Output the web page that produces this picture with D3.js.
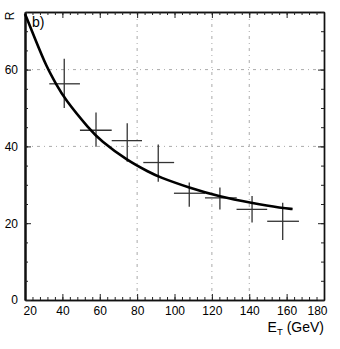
<!DOCTYPE html>
<html>
<head>
<meta charset="utf-8">
<script src="https://cdn.jsdelivr.net/npm/d3@7"></script>
<style>
  body { margin: 0; background: #fff; }
  svg { display: block; font-family: "Liberation Sans", Arial, sans-serif; }
</style>
</head>
<body>
<svg id="chart" width="340" height="349"></svg>
<script>
// measured points (crosses)
const binCenter = [41.0, 58.0, 74.7, 91.3, 107.9, 124.3, 141.5, 157.9];
const binLow = [33.0, 49.4, 66.4, 83.3, 99.7, 116.3, 133.2, 149.6];
const binHigh = [49.4, 66.4, 82.6, 99.8, 116.3, 133.3, 149.6, 166.6];
const ratio = [56.3, 44.2, 41.5, 35.8, 27.8, 26.6, 23.6, 20.5];
const ratioLow = [50.0, 39.9, 36.0, 30.8, 24.3, 23.6, 20.2, 15.6];
const ratioHigh = [62.8, 48.8, 46.0, 40.5, 30.6, 29.3, 27.1, 25.3];

// fit curve
const fitE = [20, 25.4, 31.6, 36.6, 41, 54.8, 60.1, 74.7, 86.9, 91.3, 108, 124.3, 141, 157.9, 163.2];
const fitR = [74.5, 68.0, 60.6, 56.3, 52.5, 44.3, 41.7, 36.3, 33.2, 32.1, 29.2, 26.9, 25.3, 23.9, 23.7];

const xTicks = [20, 40, 60, 80, 100, 120, 140, 160, 180];
const yTicks = [0, 20, 40, 60];
const xGrid = [80, 120, 140];
const yGrid = [40, 60];

const svg = d3.select("#chart");
const pLeft = 25, pRight = 324, pTop = 12, pBottom = 300;

const x = d3.scaleLinear().domain([20, 180]).range([pLeft, pRight]);
const y = d3.scaleLinear().domain([0, 75]).range([pBottom, pTop]);

const xMinor = d3.range(20, 181, 4);
const yMinor = d3.range(0, 76, 5);

// grid
svg.append("g").selectAll("line").data(xGrid).enter().append("line")
  .attr("x1", d => x(d)).attr("x2", d => x(d))
  .attr("y1", pTop).attr("y2", pBottom)
  .attr("stroke", "#aaa").attr("stroke-width", 1)
  .attr("stroke-dasharray", "3,4,1,4");
svg.append("g").selectAll("line").data(yGrid).enter().append("line")
  .attr("x1", pLeft).attr("x2", pRight)
  .attr("y1", d => y(d)).attr("y2", d => y(d))
  .attr("stroke", "#aaa").attr("stroke-width", 1)
  .attr("stroke-dasharray", "3,4,1,4");

function styleAxis(g) {
  g.selectAll("path.domain").attr("stroke", "#111").attr("stroke-width", 1.4);
  g.selectAll(".tick line").attr("stroke", "#222");
  g.selectAll("text").attr("fill", "#000").style("font-size", "12px")
    .style("font-family", "'Liberation Sans', Arial, sans-serif");
}

// bottom axis
const gx = svg.append("g").attr("transform", `translate(0,${pBottom})`)
  .call(d3.axisBottom(x).tickValues(xTicks).tickSizeInner(-6).tickSizeOuter(0).tickPadding(6))
  .call(styleAxis);
gx.selectAll("text").filter(d => d === 20).attr("text-anchor", "start").attr("dx", -2);
gx.selectAll("text").filter(d => d === 180).attr("text-anchor", "end").attr("dx", 3);
svg.append("g").attr("transform", `translate(0,${pBottom})`)
  .call(d3.axisBottom(x).tickValues(xMinor).tickSizeInner(-3).tickSizeOuter(0).tickFormat(""))
  .call(styleAxis);

// top axis
svg.append("g").attr("transform", `translate(0,${pTop})`)
  .call(d3.axisTop(x).tickValues(xTicks).tickSizeInner(-6).tickSizeOuter(0).tickFormat(""))
  .call(styleAxis);
svg.append("g").attr("transform", `translate(0,${pTop})`)
  .call(d3.axisTop(x).tickValues(xMinor).tickSizeInner(-3).tickSizeOuter(0).tickFormat(""))
  .call(styleAxis);

// left axis
svg.append("g").attr("transform", `translate(${pLeft},0)`)
  .call(d3.axisLeft(y).tickValues(yTicks).tickSizeInner(-6).tickSizeOuter(0).tickPadding(7))
  .call(styleAxis)
  .selectAll("path.domain").attr("stroke-width", 2);
svg.append("g").attr("transform", `translate(${pLeft},0)`)
  .call(d3.axisLeft(y).tickValues(yMinor).tickSizeInner(-3).tickSizeOuter(0).tickFormat(""))
  .call(styleAxis)
  .selectAll("path.domain").attr("stroke-width", 2);

// right axis
svg.append("g").attr("transform", `translate(${pRight},0)`)
  .call(d3.axisRight(y).tickValues(yTicks).tickSizeInner(-6).tickSizeOuter(0).tickFormat(""))
  .call(styleAxis);
svg.append("g").attr("transform", `translate(${pRight},0)`)
  .call(d3.axisRight(y).tickValues(yMinor).tickSizeInner(-3).tickSizeOuter(0).tickFormat(""))
  .call(styleAxis);

// crosses
const idx = d3.range(binCenter.length);
const cross = svg.append("g").attr("stroke", "#333").attr("stroke-width", 1.3);
cross.selectAll("line.h").data(idx).enter().append("line").attr("class", "h")
  .attr("x1", i => x(binLow[i])).attr("x2", i => x(binHigh[i]))
  .attr("y1", i => y(ratio[i])).attr("y2", i => y(ratio[i]));
cross.selectAll("line.v").data(idx).enter().append("line").attr("class", "v")
  .attr("x1", i => x(binCenter[i])).attr("x2", i => x(binCenter[i]))
  .attr("y1", i => y(ratioLow[i])).attr("y2", i => y(ratioHigh[i]));

// fit curve
const line = d3.line().x(i => x(fitE[i])).y(i => y(fitR[i])).curve(d3.curveBasis);
svg.append("path").attr("d", line(d3.range(fitE.length)))
  .attr("fill", "none").attr("stroke", "#000").attr("stroke-width", 2.6);

// labels
svg.append("text").attr("transform", "translate(14,16) rotate(-90)")
  .attr("text-anchor", "middle").style("font-size", "12px").text("R");
svg.append("text").attr("x", 32).attr("y", 27).style("font-size", "14px").text("b)");

const xt = svg.append("text").attr("x", 324).attr("y", 332)
  .attr("text-anchor", "end").style("font-size", "14px");
xt.append("tspan").text("E");
xt.append("tspan").attr("dy", 3).style("font-size", "9.5px").text("T");
xt.append("tspan").attr("dy", -3).text(" (GeV)");
</script>
</body>
</html>
